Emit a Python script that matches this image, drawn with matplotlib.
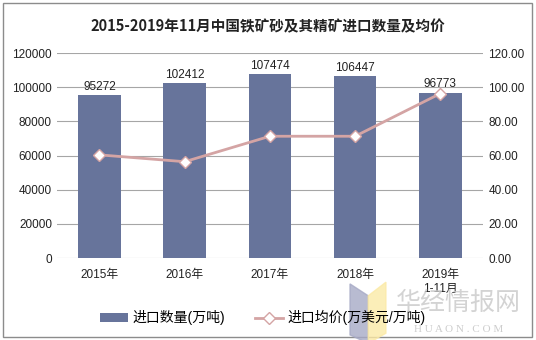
import matplotlib.pyplot as plt
import matplotlib.patches as mpatches
import numpy as np

plt.rcParams['font.family'] = ['Liberation Sans', 'Noto Sans CJK SC', 'DejaVu Sans']

years = ['2015年', '2016年', '2017年', '2018年', '2019年\n1-11月']
volume = [95272, 102412, 107474, 106447, 96773]      # 万吨
price = [60.4, 56.4, 71.3, 71.3, 96.3]               # 万美元/万吨

bar_color = '#67749b'
line_color = '#d4a4a4'
grid_color = '#a6a6a6'

fig = plt.figure(figsize=(5.36, 3.4), dpi=100)
ax1 = fig.add_axes([0.106, 0.241, 0.795, 0.603])
ax2 = ax1.twinx()

x = np.arange(len(years))
bars = ax1.bar(x, volume, width=0.5, color=bar_color, label='进口数量(万吨)', zorder=2)
for xi, v in zip(x, volume):
    ax1.text(xi, v + 1500, str(v), ha='center', va='bottom', fontsize=8.5, color='#222222')

ax1.set_ylim(0, 120000)
ax1.set_yticks(np.arange(0, 120001, 20000))
ax1.set_xlim(-0.5, len(years) - 0.5)
ax1.set_xticks(x)
ax1.set_xticklabels(years, fontsize=8.5)
ax1.tick_params(axis='both', length=0, labelsize=8.5, colors='#222222')
ax1.tick_params(axis='x', pad=8)
ax1.yaxis.grid(True, color=grid_color, linewidth=0.8, zorder=0)
ax1.set_axisbelow(True)

ax2.plot(x, price, color=line_color, linewidth=2, marker='D', markersize=6,
         markerfacecolor='white', markeredgecolor=line_color, markeredgewidth=1,
         label='进口均价(万美元/万吨)', zorder=3)
ax2.set_ylim(0, 120)
ax2.set_yticks(np.arange(0, 121, 20))
ax2.set_yticklabels([f'{v:.2f}' for v in np.arange(0, 121, 20)])
ax2.tick_params(axis='y', length=0, labelsize=8.5, colors='#222222', pad=4)

for a in (ax1, ax2):
    for s in a.spines.values():
        s.set_visible(False)

fig.text(0.5, 0.922, '2015-2019年11月中国铁矿砂及其精矿进口数量及均价', ha='center', va='center',
         fontsize=10.5, fontweight='bold', family=['Noto Sans CJK SC'], color='#222222')

h1, l1 = ax1.get_legend_handles_labels()
h2, l2 = ax2.get_legend_handles_labels()
fig.legend(h1 + h2, l1 + l2, loc='center', bbox_to_anchor=(0.49, 0.065), ncol=2,
           frameon=False, fontsize=10, handlelength=2.0, handletextpad=0.3, columnspacing=2.2)

# watermark
fig.patches.append(mpatches.Polygon([(0.653, 0.015), (0.653, 0.165), (0.687, 0.13), (0.687, -0.01)],
                                    closed=True, transform=fig.transFigure, color='#a7aac6', alpha=0.8, zorder=5))
fig.patches.append(mpatches.Polygon([(0.687, 0.13), (0.687, -0.01), (0.72, 0.02), (0.72, 0.17)],
                                    closed=True, transform=fig.transFigure, color='#fbeaa6', alpha=0.8, zorder=5))
fig.text(0.855, 0.11, '华经情报网', ha='center', va='center', fontsize=18, color='#c8c8c8',
         family=['Noto Sans CJK SC'], alpha=0.8, zorder=6)
fig.text(0.855, 0.03, 'H U A O N . C O M', ha='center', va='center', fontsize=8, color='#c8c8c8',
         family=['Liberation Serif'], alpha=0.9, zorder=6)

# outer frame
fig.patches.append(mpatches.Rectangle((0.006, 0.008), 0.986, 0.984, transform=fig.transFigure,
                                      fill=False, edgecolor='#8c8c8c', linewidth=1))

fig.savefig('out.png', dpi=100)
